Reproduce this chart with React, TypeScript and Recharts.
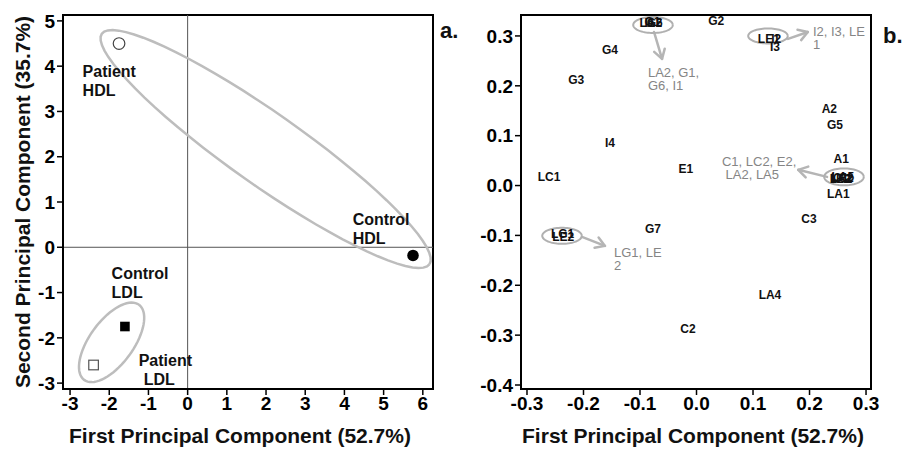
import React from 'react';
import { ScatterChart, Scatter, XAxis, YAxis, ReferenceLine, ReferenceArea, Label } from 'recharts';

const FONT = '"Liberation Sans", Arial, Helvetica, sans-serif';

// ---- panel a: PCA scores of the four lipoprotein groups
const groupNames = ['Patient HDL', 'Control HDL', 'Control LDL', 'Patient LDL'];
const pc1Scores = [-1.75, 5.75, -1.6, -2.4];
const pc2Scores = [4.5, -0.18, -1.75, -2.6];
const groupLabelX = [-2.68, 4.21, -1.94, -1.25];
const groupLabelY = [3.89, 0.62, -0.57, -2.48];
const scoreTicksX = [-3, -2, -1, 0, 1, 2, 3, 4, 5, 6];
const scoreTicksY = [-3, -2, -1, 0, 1, 2, 3, 4, 5];

// grouping ellipses (centre + two semi-axis vectors, data units)
const grpCx = [1.99, -1.94];
const grpCy = [2.17, -2.1];
const grpAx = [4.18, 0.7];
const grpAy = [-2.545, 0.83];
const grpBx = [-0.528, 0.45];
const grpBy = [-0.652, -0.287];

// ---- panel b: PCA loadings
const loadingNames = [
  'LC1', 'G3', 'G4', 'I4', 'E1', 'G7', 'C2', 'LA4', 'C3', 'A2', 'G5', 'A1', 'LA1', 'G2',
  'LA2', 'G1', 'G6', 'I1',
  'LE1', 'I2', 'I3',
  'C1', 'LC2', 'E2', 'LA2', 'LA5',
  'LG1', 'LE2',
];
const loadingX = [
  -0.261, -0.213, -0.153, -0.153, -0.019, -0.077, -0.015, 0.13, 0.199, 0.235, 0.245, 0.256, 0.251, 0.035,
  -0.081, -0.078, -0.074, -0.083,
  0.128, 0.141, 0.139,
  0.255, 0.258, 0.26, 0.256, 0.259,
  -0.237, -0.236,
];
const loadingY = [
  0.017, 0.212, 0.272, 0.086, 0.033, -0.087, -0.287, -0.219, -0.067, 0.154, 0.122, 0.053, -0.017, 0.33,
  0.326, 0.327, 0.326, 0.325,
  0.294, 0.294, 0.278,
  0.016, 0.015, 0.014, 0.013, 0.017,
  -0.097, -0.104,
];
const loadTicksX = [-0.3, -0.2, -0.1, 0, 0.1, 0.2, 0.3];
const loadTicksY = [-0.4, -0.3, -0.2, -0.1, 0, 0.1, 0.2, 0.3];

// overlapping clusters: circles, notes and arrows
const clusterX = [-0.077, 0.1265, 0.261, -0.238];
const clusterY = [0.322, 0.3, 0.0174, -0.1008];
const clusterRx = [0.035, 0.035, 0.035, 0.035];
const clusterRy = [0.016, 0.015, 0.017, 0.016];
const noteLines = [['LA2, G1,', 'G6, I1'], ['I2, I3, LE', '1'], ['C1, LC2, E2,', ' LA2, LA5'], ['LG1, LE', '2']];
const noteX = [-0.086, 0.206, 0.045, -0.146];
const noteY = [0.228, 0.31, 0.0495, -0.133];
const arrowFromX = [-0.0752, 0.162, 0.231, -0.2027];
const arrowFromY = [0.308, 0.294, 0.0174, -0.1028];
const arrowToX = [-0.061, 0.197, 0.18, -0.162];
const arrowToY = [0.254, 0.308, 0.0315, -0.121];

const ellipse = (cx: number, cy: number, ax: number, ay: number, bx: number, by: number) =>
  Array.from({ length: 73 }, (_, i) => {
    const t = (i / 72) * 2 * Math.PI;
    return { x: cx + ax * Math.cos(t) + bx * Math.sin(t), y: cy + ay * Math.cos(t) + by * Math.sin(t) };
  });

const tickStyle = { fill: '#000', fontSize: 19, fontWeight: 700, fontFamily: FONT };
const none = () => <g />;

const markerShapes = [
  (p: any) => <circle cx={p.cx} cy={p.cy} r={5.8} fill="#fff" stroke="#444" strokeWidth={1.2} />,
  (p: any) => <circle cx={p.cx} cy={p.cy} r={5.8} fill="#000" />,
  (p: any) => <rect x={p.cx - 4.8} y={p.cy - 4.8} width={9.6} height={9.6} fill="#000" />,
  (p: any) => <rect x={p.cx - 4.8} y={p.cy - 4.8} width={9.6} height={9.6} fill="#fff" stroke="#555" strokeWidth={1.2} />,
];

const GroupLabel = (p: any) => {
  const [a, b] = p.payload.name.split(' ');
  return (
    <text x={p.cx} y={p.cy} fontFamily={FONT} fontSize={16} fontWeight={700} fill="#111" dominantBaseline="central">
      <tspan x={p.cx}>{a}</tspan>
      <tspan x={p.cx + (p.payload.indent || 0)} dy={19}>{b}</tspan>
    </text>
  );
};

const LoadingLabel = (p: any) => (
  <text x={p.cx} y={p.cy} fontFamily={FONT} fontSize={12} fontWeight={700} fill="#111" textAnchor="middle" dominantBaseline="central">
    {p.payload.name}
  </text>
);

const NoteLabel = (p: any) => (
  <text x={p.cx} y={p.cy} fontFamily={FONT} fontSize={13} fill="#858585" dominantBaseline="central">
    <tspan x={p.cx} style={{ whiteSpace: 'pre' }}>{p.payload.lines[0]}</tspan>
    <tspan x={p.cx} dy={13} style={{ whiteSpace: 'pre' }}>{p.payload.lines[1]}</tspan>
  </text>
);

const Arrow = (p: any) => {
  const { x1, y1, x2, y2 } = p;
  const a = Math.atan2(y2 - y1, x2 - x1);
  const L = 9;
  const W = 5.5;
  const c = Math.cos(a);
  const s = Math.sin(a);
  return (
    <g stroke="#b5b5b5" strokeWidth={2.5} fill="none" strokeLinecap="round" strokeLinejoin="round">
      <line x1={x1} y1={y1} x2={x2} y2={y2} />
      <polyline points={`${x2 - L * c + W * s},${y2 - L * s - W * c} ${x2},${y2} ${x2 - L * c - W * s},${y2 - L * s + W * c}`} />
    </g>
  );
};

const YTitle = (text: string) => (props: any) => {
  const vb = props.viewBox;
  const x = vb.x + 22;
  const y = vb.y + vb.height / 2;
  return (
    <text x={x} y={y} transform={`rotate(-90 ${x} ${y})`} textAnchor="middle" dominantBaseline="central"
      fontFamily={FONT} fontSize={21} fontWeight={700} fill="#111">
      {text}
    </text>
  );
};

const XTitle = (text: string, shift: number) => (props: any) => {
  const vb = props.viewBox;
  return (
    <text x={vb.x + vb.width / 2 + shift} y={vb.y + 46} textAnchor="middle" dominantBaseline="central"
      fontFamily={FONT} fontSize={21} fontWeight={700} fill="#111">
      {text}
    </text>
  );
};

const ScorePlot = () => {
  const xDom = [-3.18, 6.26];
  const yDom = [-3.13, 5.13];
  return (
    <ScatterChart width={460} height={450} margin={{ top: 15, right: 27, bottom: 0, left: 0 }}>
      <XAxis type="number" dataKey="x" domain={xDom} ticks={scoreTicksX} interval={0} allowDataOverflow
        height={61} tick={tickStyle} tickSize={6} tickMargin={2} axisLine={{ stroke: '#000', strokeWidth: 2 }} tickLine={{ stroke: '#000', strokeWidth: 1.5 }}>
        <Label content={XTitle('First Principal Component (52.7%)', -8)} />
      </XAxis>
      <YAxis type="number" dataKey="y" domain={yDom} ticks={scoreTicksY} interval={0} allowDataOverflow
        width={63} tick={tickStyle} tickSize={6} tickMargin={2} axisLine={{ stroke: '#000', strokeWidth: 2 }} tickLine={{ stroke: '#000', strokeWidth: 1.5 }}>
        <Label content={YTitle('Second Principal Component (35.7%)')} />
      </YAxis>
      <ReferenceArea x1={xDom[0]} x2={xDom[1]} y1={yDom[0]} y2={yDom[1]} fill="none" stroke="#000" strokeWidth={2} fillOpacity={0} />
      <ReferenceLine x={0} stroke="#555" strokeWidth={1} />
      <ReferenceLine y={0} stroke="#555" strokeWidth={1} />
      {grpCx.map((cx, i) => (
        <Scatter key={'e' + i} data={ellipse(cx, grpCy[i], grpAx[i], grpAy[i], grpBx[i], grpBy[i])}
          line={{ stroke: '#bdbdbd', strokeWidth: 2.5 }} lineType="joint" shape={none} isAnimationActive={false} />
      ))}
      {groupNames.map((name, i) => (
        <Scatter key={name} name={name} data={[{ x: pc1Scores[i], y: pc2Scores[i] }]} shape={markerShapes[i]} isAnimationActive={false} />
      ))}
      <Scatter data={groupNames.map((name, i) => ({ x: groupLabelX[i], y: groupLabelY[i], name, indent: i === 3 ? 5 : 0 }))}
        shape={GroupLabel} isAnimationActive={false} />
    </ScatterChart>
  );
};

const LoadingPlot = () => {
  const xDom = [-0.3106, 0.3088];
  const yDom = [-0.408, 0.342];
  return (
    <ScatterChart width={447} height={450} margin={{ top: 15, right: 36, bottom: 0, left: 0 }}>
      <XAxis type="number" dataKey="x" domain={xDom} ticks={loadTicksX} interval={0} allowDataOverflow
        tickFormatter={(v: number) => v.toFixed(1)}
        height={61} tick={tickStyle} tickSize={6} tickMargin={2} axisLine={{ stroke: '#000', strokeWidth: 2 }} tickLine={{ stroke: '#000', strokeWidth: 1.5 }}>
        <Label content={XTitle('First Principal Component (52.7%)', -3)} />
      </XAxis>
      <YAxis type="number" dataKey="y" domain={yDom} ticks={loadTicksY} interval={0} allowDataOverflow
        tickFormatter={(v: number) => v.toFixed(1)}
        width={61} tick={tickStyle} tickSize={6} tickMargin={2} axisLine={{ stroke: '#000', strokeWidth: 2 }} tickLine={{ stroke: '#000', strokeWidth: 1.5 }} />
      <ReferenceArea x1={xDom[0]} x2={xDom[1]} y1={yDom[0]} y2={yDom[1]} fill="none" stroke="#000" strokeWidth={2} fillOpacity={0} />
      {clusterX.map((cx, i) => (
        <Scatter key={'c' + i} data={ellipse(cx, clusterY[i], clusterRx[i], 0, 0, clusterRy[i])}
          line={{ stroke: '#b0b0b0', strokeWidth: 2 }} lineType="joint" shape={none} isAnimationActive={false} />
      ))}
      {arrowFromX.map((fx, i) => (
        <ReferenceLine key={'a' + i} segment={[{ x: fx, y: arrowFromY[i] }, { x: arrowToX[i], y: arrowToY[i] }]}
          shape={Arrow} ifOverflow="visible" />
      ))}
      <Scatter data={loadingNames.map((name, i) => ({ x: loadingX[i], y: loadingY[i], name }))}
        shape={LoadingLabel} isAnimationActive={false} />
      <Scatter data={noteLines.map((lines, i) => ({ x: noteX[i], y: noteY[i], lines }))}
        shape={NoteLabel} isAnimationActive={false} />
    </ScatterChart>
  );
};

export default function App() {
  return (
    <div style={{ position: 'absolute', left: 0, top: 0, width: 907, height: 450, background: '#fff', fontFamily: FONT }}>
      <div style={{ position: 'absolute', left: 0, top: 0 }}>
        <ScorePlot />
      </div>
      <div style={{ position: 'absolute', left: 460, top: 0 }}>
        <LoadingPlot />
      </div>
      <svg width={907} height={450} style={{ position: 'absolute', left: 0, top: 0, pointerEvents: 'none' }}>
        <text x={440} y={38} fontFamily={FONT} fontSize={22} fontWeight={700} fill="#111">a.</text>
        <text x={883} y={43} fontFamily={FONT} fontSize={22} fontWeight={700} fill="#111">b.</text>
      </svg>
    </div>
  );
}
